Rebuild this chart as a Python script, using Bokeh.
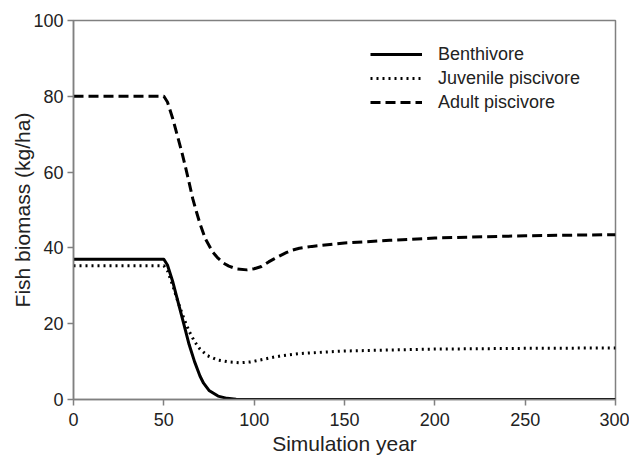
from bokeh.plotting import figure
from bokeh.models import Range1d, FixedTicker, Legend, LegendItem
from bokeh.embed import file_html
from bokeh.resources import INLINE

# Data
benth_year = [0, 50, 52, 55, 58, 61, 64, 67, 70, 72, 75, 80, 85, 90, 100, 150, 200, 250, 300]
benth_val = [37, 37, 35.5, 31, 25.5, 20, 14.5, 10, 6.2, 4.3, 2.4, 0.9, 0.3, 0.05, 0, 0, 0, 0, 0]

juv_year = [0, 50, 52, 55, 58, 61, 64, 67, 70, 74, 80, 86, 92, 98, 105, 110, 116, 125, 142, 150, 200, 250, 300]
juv_val = [35.3, 35.3, 34, 30, 25.5, 21.5, 18, 15.3, 13.3, 11.6, 10.4, 9.9, 9.7, 9.9, 10.6, 11.1, 11.6, 12.1, 12.6, 12.8, 13.3, 13.5, 13.6]

adult_year = [0, 50, 52, 55, 57, 60, 62, 64, 66, 68, 70, 73, 77, 80, 83, 86, 90, 96, 100, 104, 108, 111, 115, 118, 121, 125, 132, 142, 150, 175, 200, 250, 300]
adult_val = [80, 80, 78.5, 74, 70.5, 65.2, 61.3, 57.2, 53, 49.6, 46.4, 42.4, 38.9, 37.3, 36, 35.2, 34.5, 34.2, 34.5, 35.1, 36.3, 37.1, 38.1, 38.8, 39.4, 39.9, 40.4, 40.9, 41.3, 42, 42.6, 43.2, 43.5]

x_ticks = [0, 50, 100, 150, 200, 250, 300]
y_ticks = [0, 20, 40, 60, 80, 100]
series_names = ["Benthivore", "Juvenile piscivore", "Adult piscivore"]
x_title = "Simulation year"
y_title = "Fish biomass (kg/ha)"

FONT = "Liberation Sans"
GREY = "#808080"
TEXT = "#222222"

p = figure(width=629, height=457, output_backend="svg", toolbar_location=None,
           x_range=Range1d(0, 300), y_range=Range1d(0, 100),
           min_border_left=73, min_border_right=14, min_border_top=20, min_border_bottom=58)
p.xgrid.visible = False
p.ygrid.visible = False
p.outline_line_color = GREY
p.outline_line_width = 1.5

r1 = p.line(benth_year, benth_val, line_color="black", line_width=3, line_join="round")
r2 = p.line(juv_year, juv_val, line_color="black", line_width=3, line_dash="2 4", line_join="round")
r3 = p.line(adult_year, adult_val, line_color="black", line_width=3, line_dash="10 5", line_join="round")

for ax in (p.xaxis[0], p.yaxis[0]):
    ax.axis_line_color = GREY
    ax.axis_line_width = 1.5
    ax.major_tick_line_color = GREY
    ax.major_tick_line_width = 1.5
    ax.major_tick_out = 6
    ax.major_tick_in = 0
    ax.minor_tick_line_color = None
    ax.major_label_text_font = FONT
    ax.major_label_text_font_size = "18px"
    ax.major_label_text_color = TEXT
    ax.axis_label_text_font = FONT
    ax.axis_label_text_font_size = "21px"
    ax.axis_label_text_font_style = "normal"
    ax.axis_label_text_color = TEXT

p.xaxis.ticker = FixedTicker(ticks=x_ticks)
p.yaxis.ticker = FixedTicker(ticks=y_ticks)
p.xaxis.axis_label = x_title
p.yaxis.axis_label = y_title
p.xaxis.major_label_standoff = 7
p.xaxis.axis_label_standoff = 3
p.yaxis.major_label_standoff = 4
p.yaxis.axis_label_standoff = -4

legend = Legend(items=[LegendItem(label=series_names[0], renderers=[r1]),
                       LegendItem(label=series_names[1], renderers=[r2]),
                       LegendItem(label=series_names[2], renderers=[r3])],
                location=(297, 285))
legend.border_line_color = None
legend.background_fill_alpha = 0
legend.padding = 0
legend.margin = 0
legend.spacing = 0
legend.label_height = 24
legend.glyph_height = 24
legend.glyph_width = 52
legend.label_standoff = 16
legend.label_text_font = FONT
legend.label_text_font_size = "18px"
legend.label_text_color = TEXT
p.add_layout(legend, "center")

open("out.html", "w").write(file_html(p, INLINE))
